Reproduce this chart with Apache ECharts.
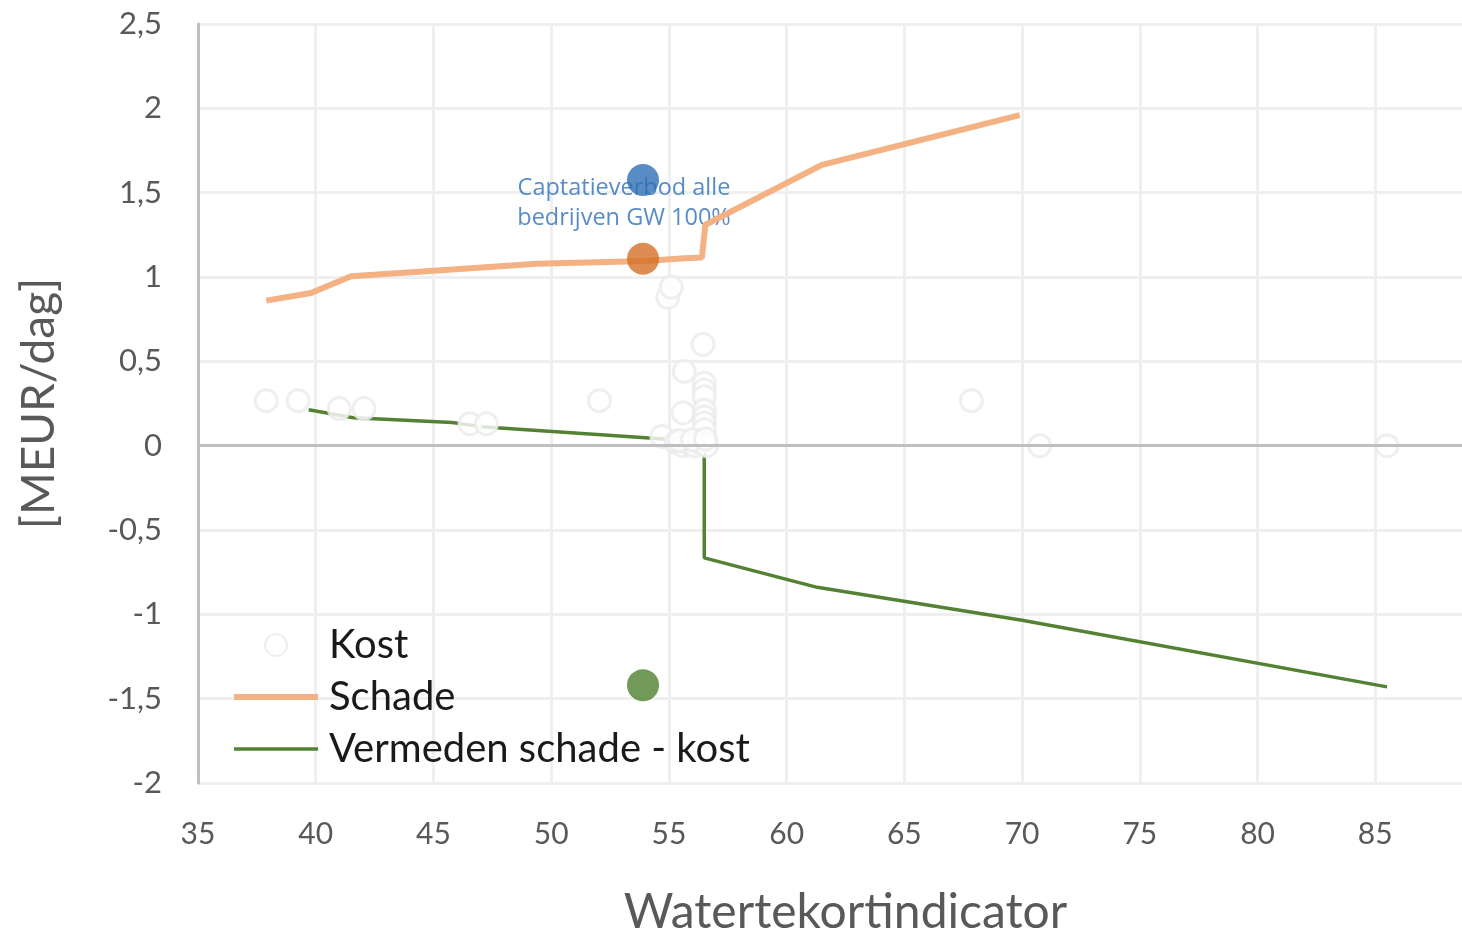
<!DOCTYPE html>
<html>
<head>
<meta charset="utf-8">
<script src="https://cdn.jsdelivr.net/npm/echarts@6/dist/echarts.min.js"></script>
<style>
html,body{margin:0;padding:0;background:#fff;overflow:hidden;width:100%;height:100%;}
#chart{width:1462px;height:929px;}
</style>
</head>
<body>
<div id="chart"></div>
<script>
// ---- data ----
const xTicks = [35, 40, 45, 50, 55, 60, 65, 70, 75, 80, 85];
const yTicks = [-2, -1.5, -1, -0.5, 0, 0.5, 1, 1.5, 2, 2.5];

const kostPoints = [
  [37.9, 0.267], [39.25, 0.267], [41.0, 0.22], [42.05, 0.22],
  [46.55, 0.13], [47.25, 0.13], [52.05, 0.267], [54.7, 0.055],
  [54.95, 0.88], [55.1, 0.94], [56.45, 0.60], [55.65, 0.44],
  [56.5, 0.37], [56.5, 0.33], [56.5, 0.29], [55.6, 0.195],
  [56.5, 0.21], [56.5, 0.17], [56.5, 0.135], [56.5, 0.095],
  [55.3, 0.02], [55.6, 0.0], [55.9, 0.01], [56.1, 0.0], [56.3, 0.02],
  [56.6, 0.0], [55.45, 0.03], [56.0, 0.035], [56.55, 0.04],
  [67.85, 0.267], [70.75, 0.0], [85.5, 0.0]
];

const schadePoints = [
  [37.9, 0.86], [39.8, 0.905], [41.5, 1.005], [45.8, 1.045], [49.4, 1.078],
  [54.0, 1.095], [55.5, 1.11], [56.4, 1.115], [56.55, 1.31], [61.5, 1.665],
  [69.9, 1.96]
];

const vermedenPoints = [
  [39.7, 0.213], [41.6, 0.165], [45.8, 0.137], [47.2, 0.11], [54.8, 0.04],
  [56.5, 0.0], [56.5, -0.665], [61.3, -0.84], [70.0, -1.035], [85.5, -1.43]
];

const captatieBlue = [[53.9, 1.575]];
const captatieOrange = [[53.9, 1.108]];
const captatieGreen = [[53.9, -1.42]];
const captatieLabel = 'Captatieverbod alle\nbedrijven GW 100%';

const seriesNames = ['Kost', 'Schade', 'Vermeden schade - kost'];

// ---- chart ----
const chart = echarts.init(document.getElementById('chart'), null, {renderer: 'canvas', width: 1462, height: 929});
const fmt = v => String(v).replace('.', ',');
const axisFont = 'Lato, "Liberation Sans", sans-serif';

chart.setOption({
  animation: false,
  backgroundColor: '#ffffff',
  grid: {left: 198, top: 24, width: 1295, height: 759, containLabel: false, outerBoundsMode: 'none'},
  xAxis: {
    type: 'value', min: 35, max: 90, interval: 5,
    name: 'Watertekortindicator', nameLocation: 'middle', nameGap: 106,
    nameTextStyle: {fontSize: 48, color: '#595959', fontFamily: axisFont},
    axisLine: {show: false},
    axisTick: {show: false},
    axisLabel: {
      fontSize: 30, color: '#595959', fontFamily: axisFont, margin: 36,
      formatter: v => xTicks.includes(v) ? fmt(v) : ''
    },
    splitLine: {show: true, lineStyle: {color: '#efefef', width: 3}}
  },
  yAxis: {
    type: 'value', min: -2, max: 2.5, interval: 0.5,
    name: '[MEUR/dag]', nameLocation: 'middle', nameGap: 136, nameRotate: 90,
    nameTextStyle: {fontSize: 46, color: '#595959', fontFamily: axisFont},
    axisLine: {show: true, onZero: false, lineStyle: {color: '#bfbfbf', width: 3}},
    axisTick: {show: false},
    axisLabel: {
      fontSize: 31, color: '#595959', fontFamily: axisFont, margin: 36,
      formatter: v => yTicks.includes(v) ? fmt(v) : ''
    },
    splitLine: {show: true, lineStyle: {color: '#efefef', width: 3}}
  },
  legend: {
    orient: 'vertical', left: 234, top: 625, padding: 0,
    data: [
      {name: seriesNames[0]},
      {name: seriesNames[1], icon: 'path://M0,0H84V6H0Z'},
      {name: seriesNames[2], icon: 'path://M0,0H84V3.5H0Z'}
    ],
    itemWidth: 84, itemHeight: 22, itemGap: 12,
    textStyle: {fontSize: 40, color: '#1a1a1a', fontFamily: axisFont, padding: [0, 0, 0, 6]},
    selectedMode: false
  },
  series: [
    {
      name: 'labelHolder', type: 'scatter', data: captatieBlue, z: 1,
      symbolSize: 1, itemStyle: {color: 'rgba(0,0,0,0)'}, silent: true,
      label: {
        show: true, position: 'inside', offset: [-19, 23],
        formatter: captatieLabel, fontSize: 23.5, lineHeight: 30,
        color: '#2e6fb5', fontFamily: '"Open Sans", "Noto Sans", sans-serif', align: 'center'
      }
    },
    {
      name: 'Schade', type: 'line', data: schadePoints, z: 2,
      showSymbol: false, symbol: 'none',
      lineStyle: {color: '#f4b183', width: 6},
      itemStyle: {color: '#f4b183'},
      markLine: {
        silent: true, symbol: 'none', label: {show: false},
        lineStyle: {color: '#bfbfbf', width: 3, type: 'solid'},
        data: [{yAxis: 0}]
      }
    },
    {
      name: 'Vermeden schade - kost', type: 'line', data: vermedenPoints, z: 2,
      showSymbol: false, symbol: 'none',
      lineStyle: {color: '#548235', width: 3.5},
      itemStyle: {color: '#548235'}
    },
    {
      name: 'Kost', type: 'scatter', data: kostPoints, z: 3,
      symbol: 'circle', symbolSize: 22,
      itemStyle: {color: '#ffffff', borderColor: '#ebebeb', borderWidth: 3}
    },
    {
      name: 'blue', type: 'scatter', data: captatieBlue, z: 4,
      symbolSize: 32, itemStyle: {color: '#2e6fb5'}
    },
    {
      name: 'orange', type: 'scatter', data: captatieOrange, z: 4,
      symbolSize: 32, itemStyle: {color: '#d46f27'}
    },
    {
      name: 'green', type: 'scatter', data: captatieGreen, z: 4,
      symbolSize: 32, itemStyle: {color: '#4f7f2e'}
    }
  ]
});
</script>
</body>
</html>
